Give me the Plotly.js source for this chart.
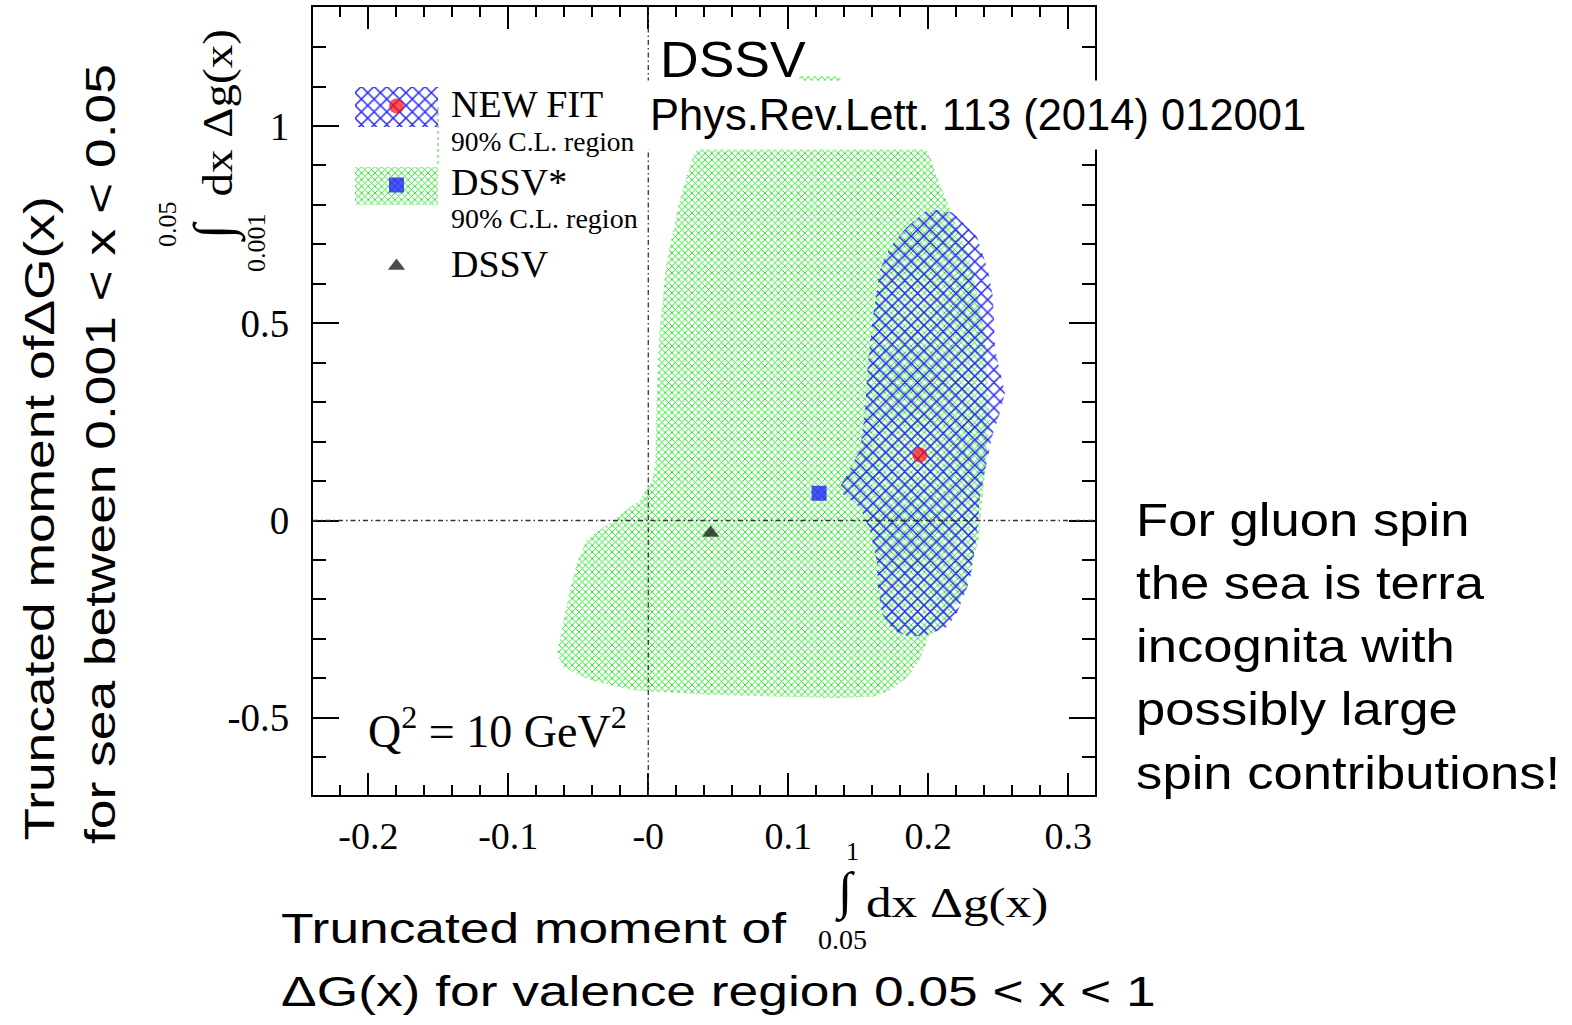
<!DOCTYPE html>
<html>
<head>
<meta charset="utf-8">
<script src="https://cdn.plot.ly/plotly-3.0.1.min.js"></script>
<style>
html,body{margin:0;padding:0;background:#ffffff;}
#chart{width:1572px;height:1025px;}
</style>
</head>
<body>
<div id="chart"></div>
<script>
// ---------------- data ----------------
// DSSV* 90% C.L. region boundary (x = valence moment, y = sea moment)
const dssvStarRegionX = [0.098, 0.136, 0.200, 0.207, 0.213, 0.230, 0.240, 0.244, 0.240, 0.236, 0.226, 0.212,
  0.200, 0.194, 0.185, 0.173, 0.161, 0.137, 0.042, -0.011, -0.042, -0.061, -0.065, -0.062, -0.057, -0.051,
  -0.044, -0.025, -0.006, 0.003, 0.005, 0.006, 0.008, 0.013, 0.023, 0.033];
const dssvStarRegionY = [1.127, 1.127, 0.934, 0.863, 0.812, 0.660, 0.483, 0.255, 0.103, -0.049, -0.176, -0.265,
  -0.295, -0.354, -0.397, -0.430, -0.447, -0.450, -0.442, -0.430, -0.404, -0.371, -0.336, -0.278, -0.194, -0.108,
  -0.049, 0.001, 0.052, 0.103, 0.146, 0.313, 0.483, 0.653, 0.820, 0.934];
// NEW FIT 90% C.L. region boundary
const newFitRegionX = [0.1976, 0.2062, 0.2176, 0.2348, 0.2426, 0.2462, 0.2476, 0.2498, 0.2548, 0.2512, 0.2455,
  0.2419, 0.2369, 0.2355, 0.2334, 0.2298, 0.2205, 0.2134, 0.1991, 0.1869, 0.1748, 0.1669, 0.1641, 0.1634,
  0.1584, 0.1512, 0.1355, 0.1391, 0.1512, 0.1548, 0.1569, 0.1605, 0.1655, 0.1726, 0.1848];
const newFitRegionY = [0.782, 0.787, 0.780, 0.719, 0.635, 0.567, 0.440, 0.399, 0.323, 0.273, 0.212,
  0.146, 0.060, 0.001, -0.067, -0.151, -0.235, -0.270, -0.290, -0.295, -0.278, -0.235, -0.169, -0.108,
  -0.024, 0.034, 0.077, 0.098, 0.179, 0.273, 0.399, 0.516, 0.635, 0.693, 0.744];
// central values
const fitNames = ['NEW FIT', 'DSSV*', 'DSSV'];
const fitX = [0.194, 0.122, 0.0446];
const fitY = [0.166, 0.069, -0.032];
// ticks
const xTickVals = [-0.2, -0.1, 0, 0.1, 0.2, 0.3];
const xTickText = ['-0.2', '-0.1', '-0', '0.1', '0.2', '0.3'];
const yTickVals = [-0.5, 0, 0.5, 1];
const yTickText = ['-0.5', '0', '0.5', '1'];
// legend texts
const legendLabels = ['NEW FIT', '90% C.L. region', 'DSSV*', '90% C.L. region', 'DSSV'];
const sideNote = ['For gluon spin', 'the sea is terra', 'incognita with', 'possibly large', 'spin contributions!'];
const yNote = ['Truncated moment of\u0394G(x)', 'for sea between 0.001 < x < 0.05'];
const xNote = ['Truncated moment of', '\u0394G(x) for valence region 0.05 < x < 1'];

// ---------------- styling ----------------
const SERIF = 'Liberation Serif, Times New Roman, serif';
const SANS = 'Liberation Sans, Arial, sans-serif';
const GREEN = '#22e622';
const BLUE = '#2424f2';
const PL = 313, PT = 7, PW = 782, PH = 788;
const ax = p => (p - PL) / PW;
const ay = p => (PT + PH - p) / PH;

const greenPattern = {shape: 'x', fgcolor: GREEN, fgopacity: 1, bgcolor: 'rgba(0,0,0,0)', size: 4.7, solidity: 0.36, fillmode: 'overlay'};
const bluePattern = {shape: 'x', fgcolor: BLUE, fgopacity: 1, bgcolor: 'rgba(0,0,0,0)', size: 9, solidity: 0.31, fillmode: 'overlay'};
const markerSymbols = ['circle', 'square', 'triangle-up'];
const markerColors = ['#ff0a0a', '#0505ff', '#000000'];
const markerSizes = [15, 15, 15];

const traces = [
  {x: dssvStarRegionX, y: dssvStarRegionY, type: 'scatter', mode: 'lines', fill: 'toself',
   fillcolor: 'rgba(0,0,0,0)', fillpattern: greenPattern, line: {width: 0}, hoverinfo: 'skip', name: 'DSSV* 90% C.L.'},
  {x: newFitRegionX, y: newFitRegionY, type: 'scatter', mode: 'lines', fill: 'toself',
   fillcolor: 'rgba(0,0,0,0)', fillpattern: bluePattern, line: {width: 0}, hoverinfo: 'skip', name: 'NEW FIT 90% C.L.'},
  {x: fitX, y: fitY, type: 'scatter', mode: 'markers', text: fitNames,
   marker: {symbol: markerSymbols, color: markerColors, size: markerSizes, line: {width: 0}}, name: 'central values'},
  // legend key (inset axes, units = pixels of the key box)
  {x: [0, 83, 83, 0], y: [7, 7, 47, 47], xaxis: 'x2', yaxis: 'y2', type: 'scatter', mode: 'lines', fill: 'toself',
   fillcolor: 'rgba(0,0,0,0)', fillpattern: bluePattern, line: {width: 0}, hoverinfo: 'skip'},
  {x: [0, 83, 83, 0], y: [87, 87, 125, 125], xaxis: 'x2', yaxis: 'y2', type: 'scatter', mode: 'lines', fill: 'toself',
   fillcolor: 'rgba(0,0,0,0)', fillpattern: greenPattern, line: {width: 0}, hoverinfo: 'skip'},
  {x: [41.5, 41.5, 41.5], y: [26, 105, 186], xaxis: 'x2', yaxis: 'y2', type: 'scatter', mode: 'markers',
   marker: {symbol: markerSymbols, color: markerColors, size: markerSizes, line: {width: 0}}, hoverinfo: 'skip'}
];

const annotations = [];
function addAnn(text, px, py, opts) {
  annotations.push(Object.assign({text: text, x: ax(px), y: ay(py), xref: 'paper', yref: 'paper',
    showarrow: false, xanchor: 'left', yanchor: 'middle', borderpad: 1,
    font: {family: SANS, size: 40, color: '#000'}}, opts || {}));
}
// boxed labels on top of the frame
addAnn('DSSV', 657, 60, {font: {family: SANS, size: 50, color: '#000'}, bgcolor: '#ffffff', borderpad: 2, _sx: 1.07});
addAnn('Phys.Rev.Lett. 113 (2014) 012001', 639, 115.5, {font: {family: SANS, size: 43.5, color: '#000'}, bgcolor: '#ffffff', borderpad: 10});
// side note
sideNote.forEach((t, i) => addAnn(t, 1134, 519 + i * 63.3, {font: {family: SANS, size: 47, color: '#000'}, _sx: 1.12}));
// bottom note
xNote.forEach((t, i) => addAnn(t, 279, 928 + i * 63, {font: {family: SANS, size: 42, color: '#000'}, _sx: 1.27}));
// left rotated note
addAnn(yNote[0], 40, 843, {textangle: -90, xanchor: 'center', yanchor: 'bottom', font: {family: SANS, size: 42, color: '#000'}, _sx: 1.27});
addAnn(yNote[1], 100, 846, {textangle: -90, xanchor: 'center', yanchor: 'bottom', font: {family: SANS, size: 42, color: '#000'}, _sx: 1.27});
// Q^2 label
addAnn('Q<sup>2</sup> = 10 GeV<sup>2</sup>', 366, 728, {font: {family: SERIF, size: 46, color: '#000'}});
// legend labels
const legY = [104, 141, 182, 218, 264];
const legS = [38, 27.5, 38, 28, 38];
legendLabels.forEach((t, i) => addAnn(t, 450, legY[i], {font: {family: SERIF, size: legS[i], color: '#000'}, borderpad: 0}));
// x axis title (integral from 0.05 to 1)
addAnn('\u222B', 845, 892, {xanchor: 'center', font: {family: SERIF, size: 52, color: '#000'}});
addAnn('1', 852, 851, {xanchor: 'center', font: {family: SERIF, size: 26, color: '#000'}});
addAnn('0.05', 842, 939, {xanchor: 'center', font: {family: SERIF, size: 28, color: '#000'}});
addAnn('dx \u0394g(x)', 864, 904, {font: {family: SERIF, size: 42, color: '#000'}, _sx: 1.22});
// y axis title (integral from 0.001 to 0.05), rotated
addAnn('dx \u0394g(x)', 219, 199, {textangle: -90, xanchor: 'center', yanchor: 'bottom', font: {family: SERIF, size: 42, color: '#000'}, _sx: 1.12});
addAnn('\u222B', 214, 232, {textangle: -90, xanchor: 'center', font: {family: SERIF, size: 54, color: '#000'}});
addAnn('0.05', 168, 224, {textangle: -90, xanchor: 'center', font: {family: SERIF, size: 26, color: '#000'}});
addAnn('0.001', 256, 243, {textangle: -90, xanchor: 'center', font: {family: SERIF, size: 26, color: '#000'}});

// horizontal stretch of some texts (as in the reference)
const rules = [];
annotations.forEach((a, i) => {
  if (a._sx) {
    rules.push('g.annotation[data-index="' + i + '"] text.annotation-text{transform:scaleX(' + a._sx +
      ');transform-box:fill-box;transform-origin:0% 50%;}');
    delete a._sx;
  }
});
const st = document.createElement('style');
st.textContent = rules.join('\n');
document.head.appendChild(st);

const dashStyle = '5px,3px,1.5px,3px';
const layout = {
  width: 1572, height: 1025,
  margin: {l: PL, r: 1572 - PL - PW, t: PT, b: 1025 - PT - PH, pad: 0},
  paper_bgcolor: '#ffffff', plot_bgcolor: '#ffffff',
  showlegend: false,
  font: {family: SERIF, color: '#000'},
  xaxis: {
    range: [-0.2395, 0.3191], tickmode: 'array', tickvals: xTickVals, ticktext: xTickText,
    ticks: 'inside', ticklen: 22, tickwidth: 2, tickcolor: '#000',
    showline: true, linewidth: 2, linecolor: '#000', mirror: 'ticks',
    showgrid: false, zeroline: false, fixedrange: true,
    minor: {tickmode: 'linear', tick0: 0, dtick: 0.02, ticks: 'inside', ticklen: 10, tickwidth: 2, tickcolor: '#000', showgrid: false},
    tickfont: {family: SERIF, size: 38, color: '#000'}, ticklabelstandoff: 6
  },
  yaxis: {
    range: [-0.6958, 1.3016], tickmode: 'array', tickvals: yTickVals, ticktext: yTickText,
    ticks: 'inside', ticklen: 26, tickwidth: 2, tickcolor: '#000',
    showline: true, linewidth: 2, linecolor: '#000', mirror: 'ticks',
    showgrid: false, zeroline: false, fixedrange: true,
    minor: {tickmode: 'linear', tick0: 0, dtick: 0.1, ticks: 'inside', ticklen: 13, tickwidth: 2, tickcolor: '#000', showgrid: false},
    tickfont: {family: SERIF, size: 39, color: '#000'}, ticklabelstandoff: 14
  },
  xaxis2: {domain: [ax(355), ax(438)], range: [0, 83], visible: false, anchor: 'y2', fixedrange: true},
  yaxis2: {domain: [ay(280), ay(80)], range: [200, 0], visible: false, anchor: 'x2', fixedrange: true},
  shapes: [
    {type: 'line', xref: 'x', yref: 'paper', x0: 0, x1: 0, y0: 0, y1: 1, line: {color: '#333', width: 1.3, dash: dashStyle}},
    {type: 'line', xref: 'paper', yref: 'y', x0: 0, x1: 1, y0: 0, y1: 0, line: {color: '#333', width: 1.3, dash: dashStyle}},
    {type: 'line', xref: 'paper', yref: 'paper', x0: ax(438), x1: ax(438), y0: ay(107), y1: ay(167), line: {color: GREEN, width: 1, dash: 'dot'}}
  ],
  annotations: annotations
};

Plotly.newPlot('chart', traces, layout, {displayModeBar: false, staticPlot: true});
</script>
</body>
</html>
